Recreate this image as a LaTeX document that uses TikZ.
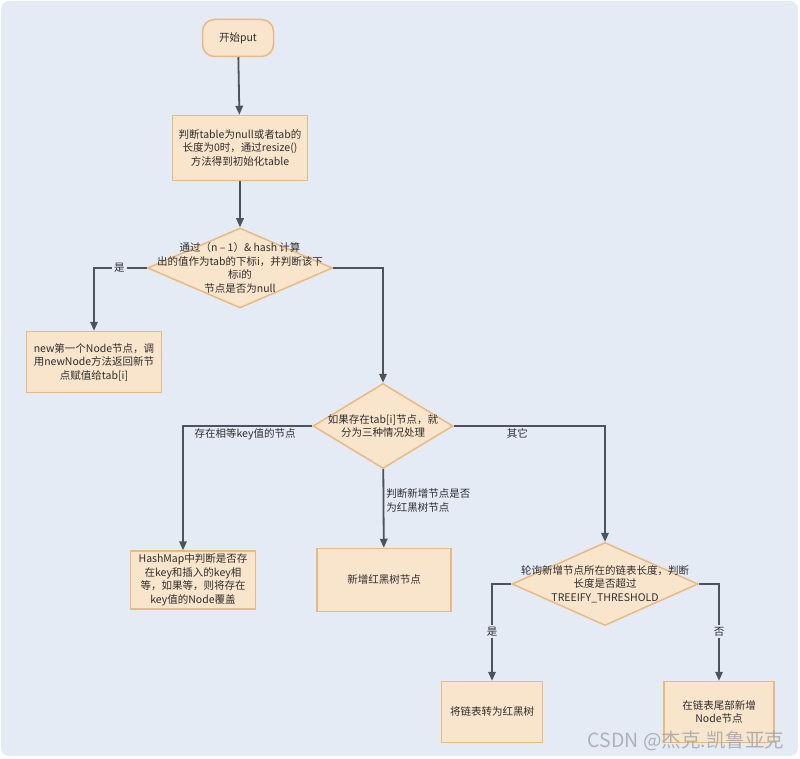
\documentclass[tikz,border=0pt]{standalone}
\usepackage{fontspec}
\setmainfont{Noto Sans CJK SC}
\usepackage{tikz}
\usetikzlibrary{arrows.meta,positioning,shapes.geometric}
\definecolor{flowbg}{RGB}{229,235,245}
\definecolor{flowfill}{RGB}{249,229,204}
\definecolor{flowedge}{RGB}{233,185,130}
\definecolor{flowline}{RGB}{75,83,95}
\definecolor{flowtext}{RGB}{45,45,45}

\begin{document}
\begin{tikzpicture}[x=1pt, y=-1pt,
      font=\fontsize{10.5}{13.5}\selectfont, text=flowtext,
      box/.style={rectangle, draw=flowedge, fill=flowfill, line width=1.5pt,
                  align=center, inner sep=2pt},
      term/.style={box, rounded corners=12pt, minimum width=71pt, minimum height=37pt},
      decision/.style={diamond, draw=flowedge, fill=flowfill, line width=1.5pt, inner sep=0pt},
      dtext/.style={align=center, inner sep=0pt},
      arr/.style={-{Triangle[length=9pt,width=7.5pt]}, line width=1.8pt, draw=flowline},
      lbl/.style={inner sep=2pt}]
    % background
    \fill[white] (0,0) rectangle (800,759);
    \useasboundingbox (0,0) rectangle (800,759);
    \fill[flowbg, rounded corners=8pt] (1,1) rectangle (798,756);

    \node[term] (start) at (238,38) {开始put};
    \node[box, minimum width=135pt, minimum height=65pt] (init) at (240,148)
      {判断table为null或者tab的\\ 长度为0时，通过resize()\\ 方法得到初始化table};
    \node[decision, minimum width=185pt, minimum height=80pt,
          label={[dtext]center:通过（n – 1）\& hash 计算\\ 出的值作为tab的下标i，并判断该下\\ 标i的\\ 节点是否为null}] (chk) at (240,268) {};
    \node[box, minimum width=135pt, minimum height=61pt] (newnode) at (94,362)
      {new第一个Node节点，调\\ 用newNode方法返回新节\\ 点赋值给tab[i]};
    \node[decision, minimum width=140pt, minimum height=85pt,
          label={[dtext]center:如果存在tab[i]节点，就\\ 分为三种情况处理}] (split) at (383,426) {};
    \node[box, minimum width=125pt, minimum height=58pt] (samekey) at (193,580)
      {HashMap中判断是否存\\ 在key和插入的key相\\ 等，如果等，则将存在\\ key值的Node覆盖};
    \node[box, minimum width=134pt, minimum height=63pt] (rbnode) at (384,580) {新增红黑树节点};
    \node[decision, minimum width=186pt, minimum height=83pt,
          label={[dtext]center:轮询新增节点所在的链表长度，判断\\ 长度是否超过\\ TREEIFY\_THRESHOLD}] (walk) at (605,584) {};
    \node[box, minimum width=101pt, minimum height=61pt] (totree) at (492,712) {将链表转为红黑树};
    \node[box, minimum width=110pt, minimum height=61pt] (tail) at (719,712) {在链表尾部新增\\ Node节点};

    \draw[arr] (start) -- (init);
    \draw[arr] (init) -- (chk);
    \draw[arr] (chk.west) -| node[lbl, fill=flowbg, pos=0.26] {是} (newnode.north);
    \draw[arr] (chk.east) -| (split.north);
    \draw[arr] (split.west) -| node[lbl, below, pos=0.26] {存在相等key值的节点} ([xshift=-10pt]samekey.north);
    \draw[arr] (split) -- node[lbl, right, align=left, pos=0.4] {判断新增节点是否\\ 为红黑树节点} (rbnode);
    \draw[arr] (split.east) -| node[lbl, below, pos=0.21] {其它} (walk.north);
    \draw[arr] (walk.west) -| node[lbl, fill=flowbg, pos=0.745] {是} (totree.north);
    \draw[arr] (walk.east) -| node[lbl, fill=flowbg, pos=0.745] {否} (tail.north);

    % watermark
    \node[text=gray!70, opacity=0.85, font=\fontsize{19.5}{21}\selectfont] (mark) at (686,741) {CSDN @杰克.凯鲁亚克};
  \end{tikzpicture}
\end{document}
